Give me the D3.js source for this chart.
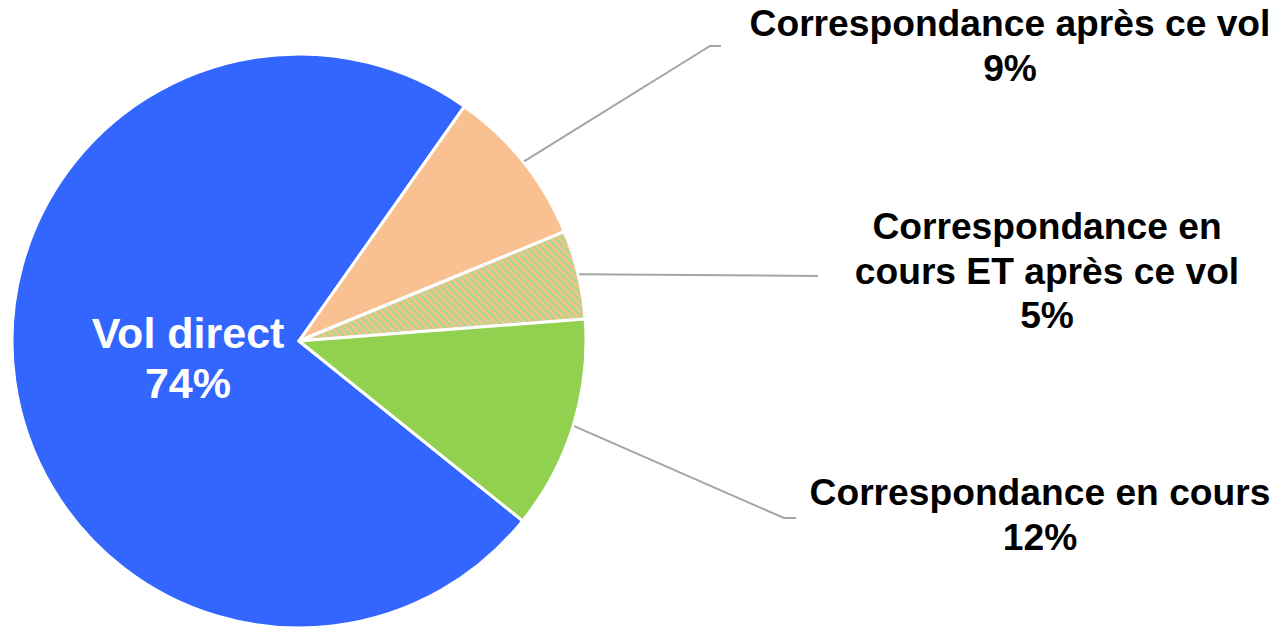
<!DOCTYPE html>
<html>
<head>
<meta charset="utf-8">
<script src="https://cdn.jsdelivr.net/npm/d3@7"></script>
<style>
  html, body { margin: 0; padding: 0; background: #ffffff; }
  svg { display: block; }
  text { font-family: "Liberation Sans", Arial, sans-serif; font-weight: bold; }
</style>
</head>
<body>
<svg id="chart" width="1286" height="629"></svg>
<script>
// Flight connection breakdown (percent of passengers)
const categories = [
  "Vol direct",
  "Correspondance après ce vol",
  "Correspondance en cours ET après ce vol",
  "Correspondance en cours"
];
const values = [74, 9, 5, 12];
const labelLines = [
  ["Vol direct"],
  ["Correspondance après ce vol"],
  ["Correspondance en", "cours ET après ce vol"],
  ["Correspondance en cours"]
];
const colors = ["#3366FF", "#F9C191", "url(#hatch)", "#92D050"];

const svg = d3.select("#chart");
const cx = 299, cy = 341, radius = 287;

// Striped fill for the mixed category
const hp = 5.2;
const defs = svg.append("defs");
const pat = defs.append("pattern")
  .attr("id", "hatch")
  .attr("patternUnits", "userSpaceOnUse")
  .attr("width", hp).attr("height", hp)
  .attr("patternTransform", "rotate(-45)");
pat.append("rect").attr("width", hp).attr("height", hp).attr("fill", "#ACD98A");
pat.append("rect").attr("width", hp / 2).attr("height", hp).attr("fill", "#F8BF8F");

const deg = Math.PI / 180;
const total = d3.sum(values);
const orangeStart = 35.2 * deg;
const start = orangeStart - (values[0] / total) * 2 * Math.PI;

const pie = d3.pie().sort(null).value(d => d)
  .startAngle(start).endAngle(start + 2 * Math.PI);
const arcs = pie(values);
const arc = d3.arc().innerRadius(0).outerRadius(radius);

const g = svg.append("g").attr("transform", `translate(${cx},${cy})`);
g.selectAll("path.slice")
  .data(arcs)
  .join("path")
  .attr("class", "slice")
  .attr("d", arc)
  .attr("fill", (d, i) => colors[i])
  .attr("stroke", "#ffffff")
  .attr("stroke-width", 3)
  .attr("stroke-linejoin", "round");

// Outside label placement: elbow point, horizontal tail end, text anchor
const outside = {
  1: { elbow: [710, 46], tail: [721, 46], tx: 1010, ty: 36 },
  2: { elbow: [818, 276], tail: [818, 276], tx: 1047, ty: 239 },
  3: { elbow: [784, 518], tail: [796, 518], tx: 1040, ty: 505 }
};
const fs = 37.2, lh = 44.5;

arcs.forEach((d, i) => {
  const pct = Math.round(values[i] / total * 100) + "%";
  const lines = labelLines[i].concat([pct]);
  if (i === 0) {
    const t = svg.append("text")
      .attr("text-anchor", "middle")
      .attr("fill", "#ffffff")
      .attr("font-size", 43);
    lines.forEach((s, k) => {
      t.append("tspan").attr("x", 188).attr("y", 348 + k * 50).text(s);
    });
    return;
  }
  const o = outside[i];
  const mid = (d.startAngle + d.endAngle) / 2;
  const p0 = [cx + Math.sin(mid) * (radius + 1), cy - Math.cos(mid) * (radius + 1)];
  svg.append("polyline")
    .attr("points", [p0, o.elbow, o.tail].map(p => p.join(",")).join(" "))
    .attr("fill", "none")
    .attr("stroke", "#A5A5A5")
    .attr("stroke-width", 2);
  const t = svg.append("text")
    .attr("text-anchor", "middle")
    .attr("fill", "#000000")
    .attr("font-size", fs);
  lines.forEach((s, k) => {
    t.append("tspan").attr("x", o.tx).attr("y", o.ty + k * lh).text(s);
  });
});
</script>
</body>
</html>
